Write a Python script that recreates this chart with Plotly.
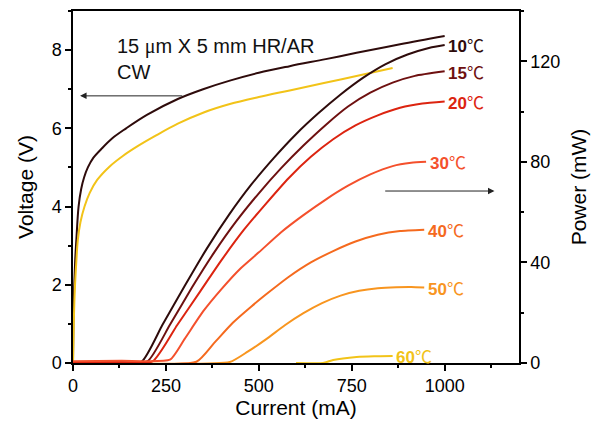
import plotly.graph_objects as go

# ---------------- data ----------------
# Voltage (left axis)
v10_current = [0, 1, 3, 6, 9, 15, 22, 30, 40, 55, 75, 105, 143, 200, 282, 350, 422, 500, 583, 680, 763, 880, 1000]
v10_voltage = [0, 1.0, 1.9, 2.65, 3.15, 4.0, 4.45, 4.75, 5.0, 5.25, 5.46, 5.74, 6.0, 6.35, 6.75, 7.0, 7.22, 7.42, 7.59, 7.77, 7.93, 8.15, 8.36]

v60_current = [0, 2, 5, 9, 13, 20, 31, 45, 65, 98, 135, 175, 220, 282, 350, 422, 500, 583, 720, 860]
v60_voltage = [0, 1.0, 1.9, 2.6, 3.15, 3.6, 4.0, 4.35, 4.68, 5.02, 5.3, 5.55, 5.8, 6.12, 6.4, 6.62, 6.8, 6.97, 7.25, 7.54]

# Power (right axis), per temperature
p10_current = [0, 100, 185, 240, 300, 360, 420, 480, 540, 600, 660, 720, 780, 840, 900, 960, 1000]
p10_power = [0.2, 0.4, 0.6, 15, 30.5, 45.5, 59, 71, 81.5, 91, 99.3, 106.8, 113.4, 118.8, 122.7, 125.4, 126.5]

p15_current = [0, 100, 200, 260, 320, 380, 440, 500, 560, 620, 680, 740, 800, 860, 920, 1000]
p15_power = [0.2, 0.4, 0.6, 15, 30, 44, 56.5, 67.5, 77.5, 86.5, 94.7, 102, 107.5, 111.5, 114.2, 116]

p20_current = [0, 100, 214, 280, 340, 400, 460, 520, 580, 640, 700, 760, 820, 880, 940, 1000]
p20_power = [0.2, 0.4, 0.6, 15, 28, 41, 53, 63.5, 73.5, 82, 89, 94.5, 98.5, 101.5, 103.2, 104]

p30_current = [0, 130, 261, 300, 350, 400, 450, 500, 560, 620, 680, 740, 800, 860, 910, 950]
p30_power = [0.7, 0.9, 1.3, 9.5, 20.5, 29.5, 37.5, 44, 52, 58.8, 65, 70.5, 75, 78.3, 79.6, 80]

p40_current = [0, 332, 380, 430, 480, 530, 580, 640, 700, 760, 820, 880, 945]
p40_power = [0.4, 0.5, 8, 16, 22.5, 28.5, 34.2, 40, 44.5, 48.3, 51, 52.5, 53]

p50_current = [0, 422, 470, 520, 570, 620, 670, 720, 770, 820, 870, 910, 945]
p50_power = [0.3, 0.4, 4.5, 9.5, 15, 19.8, 23.8, 26.8, 28.7, 29.7, 30.1, 30.2, 30]

p60_current = [600, 673, 700, 763, 810, 860]
p60_power = [0, 0, 1.2, 2.4, 2.7, 2.8]

temps = ["10", "15", "20", "30", "40", "50", "60"]
colors = ["#2e0b0b", "#6e1010", "#dc2410", "#f4502c", "#f56a1e", "#f8951f", "#f2c318"]

x_ticks = [0, 250, 500, 750, 1000]
yv_ticks = [0, 2, 4, 6, 8]
yp_ticks = [0, 40, 80, 120]

power_sets = {
    "10": (p10_current, p10_power),
    "15": (p15_current, p15_power),
    "20": (p20_current, p20_power),
    "30": (p30_current, p30_power),
    "40": (p40_current, p40_power),
    "50": (p50_current, p50_power),
    "60": (p60_current, p60_power),
}
col = dict(zip(temps, colors))

fig = go.Figure()

# voltage curves
fig.add_trace(go.Scatter(x=v10_current, y=v10_voltage, mode="lines",
                         line=dict(color=col["10"], width=2, shape="spline", smoothing=1.0),
                         yaxis="y", showlegend=False))
fig.add_trace(go.Scatter(x=v60_current, y=v60_voltage, mode="lines",
                         line=dict(color=col["60"], width=2, shape="spline", smoothing=1.0),
                         yaxis="y", showlegend=False))

# power curves (draw order so baselines show like the reference)
for t in ["60", "50", "40", "10", "15", "20", "30"]:
    xs, ys = power_sets[t]
    fig.add_trace(go.Scatter(x=xs, y=ys, mode="lines",
                             line=dict(color=col[t], width=2, shape="spline", smoothing=0.5),
                             yaxis="y2", showlegend=False))

font_main = "Liberation Sans, Arial, sans-serif"
annotations = []
# temperature labels at curve ends
for t in temps:
    xs, ys = power_sets[t]
    annotations.append(dict(
        x=xs[-1] + 4, y=ys[-1], xref="x", yref="y2", xanchor="left", yanchor="middle",
        text="<b>%s</b><span style='font-family:Noto Sans CJK SC'>℃</span>" % t,
        showarrow=False, font=dict(family=font_main, size=17, color=col[t])))

annotations.append(dict(x=112, y=8.08, xref="x", yref="y", xanchor="left", yanchor="middle",
                        text="15 <span style='font-family:Liberation Serif'>μ</span>m X 5 mm HR/AR",
                        showarrow=False, font=dict(family=font_main, size=20, color="#111")))
annotations.append(dict(x=112, y=7.44, xref="x", yref="y", xanchor="left", yanchor="middle",
                        text="CW", showarrow=False, font=dict(family=font_main, size=20, color="#111")))
# arrows
annotations.append(dict(x=19, y=6.83, ax=298, ay=6.83, xref="x", yref="y", axref="x", ayref="y",
                        text="", showarrow=True, arrowhead=2, arrowsize=1.3, arrowwidth=1,
                        arrowcolor="#222"))
annotations.append(dict(x=1134, y=68.4, ax=836, ay=68.4, xref="x", yref="y2", axref="x", ayref="y2",
                        text="", showarrow=True, arrowhead=2, arrowsize=1.3, arrowwidth=1,
                        arrowcolor="#222"))

axis_common = dict(showgrid=False, zeroline=False, showline=True, linecolor="black", linewidth=1.5,
                   ticks="outside", tickwidth=1.5, tickcolor="black", ticklen=6, automargin=False,
                   tickfont=dict(family=font_main, size=18, color="black"))

fig.update_layout(
    width=598, height=422,
    margin=dict(l=73, r=79, t=11, b=59, autoexpand=False),
    paper_bgcolor="white", plot_bgcolor="white",
    showlegend=False,
    annotations=annotations,
    xaxis=dict(range=[0, 1200], tickvals=x_ticks, mirror=True,
               minor=dict(dtick=125, tick0=0, ticks="outside", ticklen=3, tickwidth=1.5, tickcolor="black"),
               title=dict(text="Current (mA)", font=dict(family=font_main, size=21, color="black"), standoff=4),
               **axis_common),
    yaxis=dict(range=[0, 9], tickvals=yv_ticks,
               minor=dict(dtick=1, tick0=0, ticks="outside", ticklen=3, tickwidth=1.5, tickcolor="black"),
               title=dict(text="Voltage (V)", font=dict(family=font_main, size=21, color="black"), standoff=12),
               **axis_common),
    yaxis2=dict(range=[0, 140], tickvals=yp_ticks, overlaying="y", side="right", anchor="x",
                minor=dict(dtick=20, tick0=0, ticks="outside", ticklen=3, tickwidth=1.5, tickcolor="black"),
                title=dict(text="Power (mW)", font=dict(family=font_main, size=21, color="black"), standoff=12),
                **axis_common),
)

fig.write_html("out.html", config={"displayModeBar": False},
               post_script="document.body.style.margin='0';")
